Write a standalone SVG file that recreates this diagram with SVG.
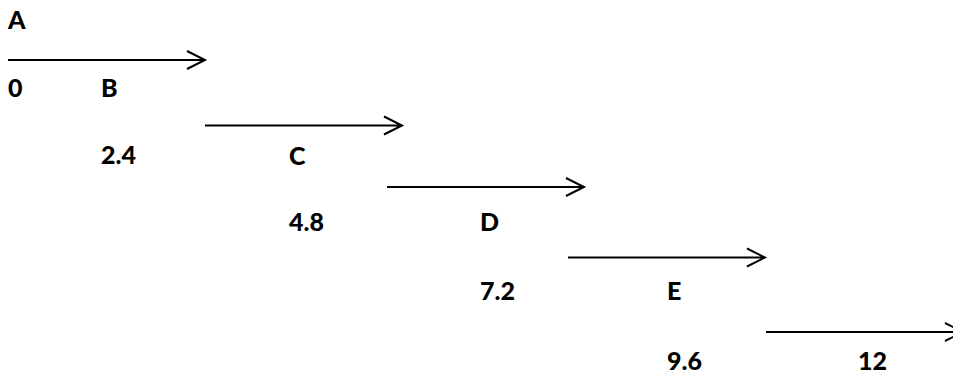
<svg xmlns="http://www.w3.org/2000/svg" width="953" height="374" viewBox="0 0 953 374">
<style>
text{font-family:Lato,"Open Sans","Liberation Sans",sans-serif;font-weight:900;font-size:25px;fill:#000}
.ln{stroke:#000;stroke-width:2;fill:none}
</style>
<rect width="953" height="374" fill="#fff"/>
<g id="labels">
<g id="nA"><text x="8" y="29">A</text></g>
<g id="n0"><text x="8" y="97">0</text></g>
<g id="nB"><text x="101" y="97">B</text></g>
<g id="n24"><text x="101" y="164">2.4</text></g>
<g id="nC"><text x="289" y="165">C</text></g>
<g id="n48"><text x="289" y="231">4.8</text></g>
<g id="nD"><text x="480" y="231">D</text></g>
<g id="n72"><text x="480" y="300">7.2</text></g>
<g id="nE"><text x="667" y="300">E</text></g>
<g id="n96"><text x="667" y="370">9.6</text></g>
<g id="n12"><text x="858" y="370">12</text></g>
</g>
<g id="connectors">
<path class="ln" d="M8 60H205M187 51L205 60L187 69"/>
<path class="ln" d="M205 125.5H402M384 116.5L402 125.5L384 134.5"/>
<path class="ln" d="M387 187H584M566 178L584 187L566 196"/>
<path class="ln" d="M568 257.5H765M747 248.5L765 257.5L747 266.5"/>
<path class="ln" d="M766 332H963M945 323L963 332L945 341"/>
</g>
</svg>
